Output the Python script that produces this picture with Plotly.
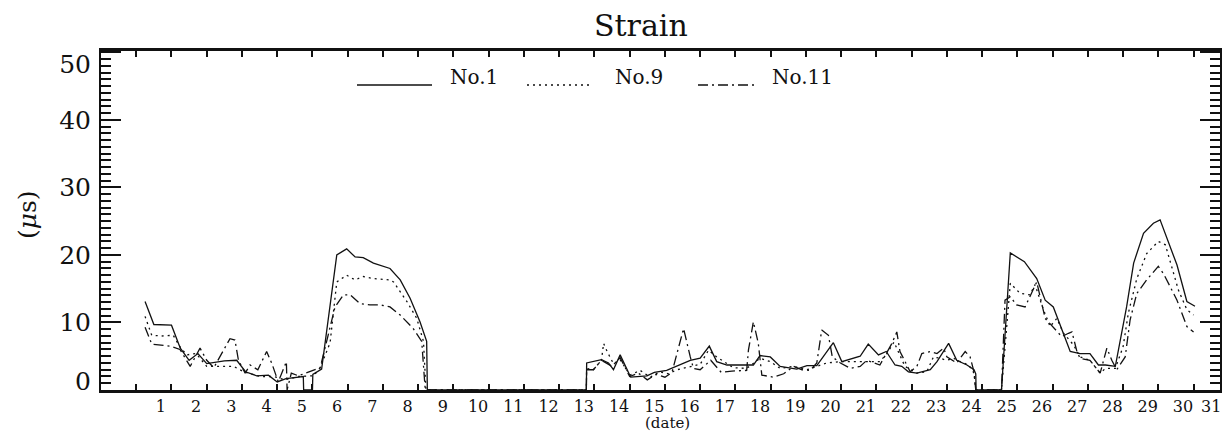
import plotly.graph_objects as go

# ---- data (x = days since first tick, values in micro-strain) ----
no1_t = [0.25, 0.5, 1.0, 1.25, 1.5, 1.75, 2.0, 2.25, 2.5, 2.85, 3.1, 3.42, 3.75, 4.0, 4.25, 4.74, 4.75, 5.0, 5.01, 5.26,
         5.69, 5.97, 6.21, 6.44, 6.73, 7.2, 7.49, 7.77, 8.05, 8.24, 8.26, 12.77,
         12.78, 13.2, 13.4, 13.54, 13.73, 14.03, 14.49, 14.7, 15.05, 15.72, 16.0, 16.26, 16.47, 16.76, 17.2, 17.51, 17.7,
         17.99, 18.27, 18.74, 19.03, 19.31, 19.78, 20.02, 20.54, 20.77, 21.06, 21.28, 21.53, 21.72, 21.91, 22.15, 22.53,
         22.72, 23.05, 23.28, 23.57, 23.77, 23.82, 23.83, 24.55,
         24.8, 25.2, 25.55, 25.79, 26.02, 26.5, 26.78, 27.06, 27.3, 27.5, 27.78, 28.1, 28.3, 28.58, 28.86, 29.05, 29.53,
         29.81, 30.04]
no1_v = [13.1, 9.7, 9.6, 6.2, 4.4, 5.4, 3.9, 4.1, 4.3, 4.4, 2.7, 2.1, 2.2, 1.2, 1.7, 2.0, 0.0, 0.0, 2.3, 3.1,
         20.0, 20.9, 19.7, 19.6, 18.8, 18.0, 16.3, 13.6, 10.1, 7.2, 0.0, 0.0,
         4.0, 4.5, 4.0, 3.0, 5.2, 1.9, 2.1, 2.6, 2.9, 4.4, 4.7, 6.5, 4.2, 3.7, 3.7, 3.7, 5.1,
         4.9, 3.5, 3.1, 3.6, 3.6, 7.0, 4.2, 5.0, 6.8, 5.2, 5.7, 3.7, 3.5, 2.7, 2.5, 3.0,
         4.2, 6.9, 4.4, 3.7, 3.0, 2.4, 0.0, 0.0,
         20.3, 19.0, 16.5, 13.3, 12.3, 5.7, 5.4, 5.4, 3.7, 3.7, 3.5, 12.3, 18.8, 23.2, 24.7, 25.2, 18.5,
         13.1, 12.4]

no9_t = [0.25, 0.44, 0.72, 1.05, 1.24, 1.43, 1.7, 2.0, 2.38, 2.76, 3.05, 3.51, 3.9, 4.22, 4.6, 5.03, 5.22, 5.5,
         5.69, 5.97, 6.21, 6.44, 6.73, 7.2, 7.3, 7.68, 7.96, 8.15, 8.22, 12.77,
         12.78, 12.97, 13.2, 13.26, 13.36, 13.54, 13.73, 14.01, 14.3, 14.58, 14.86, 15.1, 15.34, 15.72, 16.0, 16.24, 16.47,
         16.94, 17.32, 17.7, 17.99, 18.27, 18.65, 19.03, 19.31, 19.59, 19.98, 20.35, 20.73, 21.1, 21.3, 21.5, 21.81, 22.0,
         22.15, 22.43, 22.62, 22.8, 23.0, 23.19, 23.38, 23.62, 23.77, 23.82, 24.55,
         24.8, 25.08, 25.36, 25.5, 25.74, 25.93, 26.12, 26.31, 26.59, 26.78, 27.06, 27.26, 27.35, 27.5, 27.78, 28.0, 28.15,
         28.39, 28.67, 29.0, 29.2, 29.57, 29.81, 30.0]
no9_v = [10.9, 8.1, 8.0, 8.1, 6.4, 5.2, 5.4, 3.5, 3.5, 3.5, 2.7, 2.0, 2.0, 1.5, 2.0, 2.1, 3.3, 7.0,
         16.0, 17.0, 16.3, 16.8, 16.5, 16.3, 16.0, 13.1, 10.6, 7.2, 0.0, 0.0,
         3.2, 3.0, 4.4, 6.9, 5.7, 3.9, 4.5, 2.2, 2.9, 1.9, 2.7, 2.4, 3.0, 3.5, 3.8, 5.9, 4.9,
         3.3, 3.2, 4.7, 4.2, 3.2, 3.5, 3.0, 3.5, 4.0, 4.2, 4.2, 4.2, 4.2, 5.4, 7.1, 3.5, 3.0,
         2.5, 2.7, 4.9, 4.7, 4.4, 4.7, 4.2, 3.7, 2.5, 0.0, 0.0,
         15.8, 14.3, 14.1, 15.6, 11.9, 9.4, 10.6, 8.4, 6.7, 4.9, 4.4, 3.2, 2.5, 3.2, 3.2, 6.4, 11.4,
         16.5, 20.2, 22.0, 21.5, 14.8, 11.9, 11.1]

no11_t = [0.25, 0.44, 0.96, 1.24, 1.53, 1.81, 2.0, 2.2, 2.66, 2.8, 2.9, 3.09, 3.23, 3.45, 3.7, 3.85, 4.03, 4.26, 4.28,
          4.4, 4.6, 4.93, 5.22, 5.64, 5.88, 6.07, 6.35, 6.63, 6.92, 7.2, 7.49, 7.86, 8.1, 8.2, 12.77,
          12.78, 12.97, 13.2, 13.5, 13.73, 14.0, 14.25, 14.5, 14.75, 15.0, 15.2, 15.34, 15.53, 15.72, 15.81, 16.0, 16.3,
          16.6, 16.9, 17.32, 17.37, 17.51, 17.65, 17.75, 18.08, 18.37, 18.65, 18.89, 19.12, 19.31, 19.45, 19.64, 19.75,
          19.98, 20.26, 20.54, 20.73, 21.1, 21.25, 21.44, 21.58, 21.67, 21.96, 22.15, 22.29, 22.53, 22.72, 22.91, 23.0,
          23.28, 23.52, 23.66, 23.77, 23.82, 24.55,
          24.65, 24.8, 24.98, 25.22, 25.55, 25.79, 26.26, 26.45, 26.55, 26.69, 26.78, 27.06, 27.26, 27.35, 27.54, 27.68,
          27.82, 28.06, 28.2, 28.39, 28.67, 29.0, 29.15, 29.53, 29.81, 30.0]
no11_v = [9.3, 6.8, 6.5, 6.0, 3.5, 6.2, 4.4, 3.3, 7.6, 7.4, 4.4, 2.5, 3.7, 3.0, 5.7, 3.9, 1.2, 4.2, 0.0,
          2.5, 2.1, 2.7, 3.3, 12.3, 14.1, 14.1, 12.8, 12.6, 12.6, 12.3, 11.1, 9.1, 7.2, 0.0, 0.0,
          3.0, 3.0, 4.4, 3.5, 4.8, 2.0, 2.5, 1.5, 2.3, 1.9, 2.6, 5.4, 9.1, 4.9, 3.2, 3.0, 4.4,
          2.6, 2.8, 2.9, 5.9, 10.1, 6.9, 2.2, 1.9, 2.4, 3.5, 3.0, 2.9, 4.0, 8.9, 8.1, 4.9,
          4.0, 3.2, 3.5, 4.4, 3.7, 5.2, 6.9, 8.6, 5.7, 2.7, 3.5, 5.4, 5.7, 5.4, 6.2, 4.9,
          4.0, 5.7, 4.9, 2.7, 0.0, 0.0,
          13.3, 13.8, 12.6, 12.3, 16.0, 10.6, 7.9, 8.4, 8.6, 5.7, 4.7, 4.4, 3.2, 2.5, 6.2, 4.4,
          3.0, 4.9, 10.4, 14.3, 16.3, 18.3, 17.2, 13.3, 9.4, 8.6]

series_names = ["No.1", "No.9", "No.11"]
date_labels = [str(d) for d in range(1, 32)]
y_ticks = [0, 10, 20, 30, 40, 50]

# ---- styling ----
FONT = "DejaVu Serif"
INK = "#111111"
dashes = ["solid", "2px,4px", "10px,4px,2px,4px"]
X_RANGE = [-1, 30.75]
Y_RANGE = [0, 50.2]

fig = go.Figure()
for name, t, v, d in zip(series_names, [no1_t, no9_t, no11_t], [no1_v, no9_v, no11_v], dashes):
    fig.add_trace(go.Scatter(x=t, y=v, mode="lines", name=name,
                             line=dict(color=INK, width=1.3, dash=d), showlegend=False))

W, H = 1223, 439
ml, mr, mt, mb = 101, 3, 51, 49
pw, ph = W - ml - mr, H - mt - mb

def px2paper_x(px):
    return (px - ml) / pw

def py2paper_y(py):
    return (H - mb - py) / ph

fig.update_layout(
    template="none",
    width=W, height=H,
    margin=dict(l=ml, r=mr, t=mt, b=mb, autoexpand=False),
    paper_bgcolor="white", plot_bgcolor="white",
    font=dict(family=FONT, color=INK),
    xaxis=dict(range=X_RANGE, tickvals=list(range(0, 31)), ticks="inside", ticklen=6, tickwidth=2,
               tickcolor=INK, showticklabels=False, showline=True, linewidth=2.5, linecolor=INK,
               mirror="allticks", showgrid=False, zeroline=False, automargin=False),
    xaxis2=dict(range=X_RANGE, overlaying="x", anchor="y", side="bottom",
                tickvals=[min(int(s) - 0.3, 30.5) for s in date_labels], ticktext=date_labels,
                ticks="", showline=False, showgrid=False, zeroline=False, automargin=False,
                ticklabeloverflow="allow",
                tickfont=dict(family=FONT, size=16, color=INK), ticklabelstandoff=5),
    yaxis=dict(range=Y_RANGE, tickvals=y_ticks, ticks="inside", ticklen=20, tickwidth=2, tickcolor=INK,
               minor=dict(dtick=1, ticks="inside", ticklen=10, tickwidth=1.5, tickcolor=INK),
               showticklabels=False, showline=True, linewidth=2.2, linecolor=INK,
               mirror="allticks", showgrid=False, zeroline=False, automargin=False),
    yaxis2=dict(range=Y_RANGE, overlaying="y", anchor="x", side="left",
                tickvals=[1.26, 10, 20, 30, 40, 48.3], ticktext=[str(v) for v in y_ticks],
                ticks="", showline=False, showgrid=False, zeroline=False, automargin=False,
                tickfont=dict(family=FONT, size=25, color=INK), ticklabelstandoff=9),
)

# dummy invisible trace so the label axes exist
fig.add_trace(go.Scatter(x=[X_RANGE[0]], y=[Y_RANGE[0]], xaxis="x2", yaxis="y2", mode="markers",
                         marker=dict(opacity=0), showlegend=False, hoverinfo="skip"))

annotations = [
    dict(text="Strain", x=px2paper_x(641), y=py2paper_y(25), xref="paper", yref="paper",
         showarrow=False, font=dict(family=FONT, size=30, color=INK), xanchor="center", yanchor="middle"),
    dict(text="(date)", x=px2paper_x(667), y=py2paper_y(423), xref="paper", yref="paper",
         showarrow=False, font=dict(family=FONT, size=15, color=INK), xanchor="center", yanchor="middle"),
    dict(text="(<i>μ</i>s)", x=px2paper_x(27), y=py2paper_y(215), xref="paper", yref="paper", textangle=-90,
         showarrow=False, font=dict(family=FONT, size=25, color=INK), xanchor="center", yanchor="middle"),
]

# legend drawn as sample lines + labels
legend_lines = [(357, 432), (527, 593), (698, 757)]
legend_text_x = [448, 613, 770]
shapes = []
for (x0, x1), d, name, tx in zip(legend_lines, dashes, series_names, legend_text_x):
    shapes.append(dict(type="line", xref="paper", yref="paper", x0=px2paper_x(x0), x1=px2paper_x(x1),
                       y0=py2paper_y(85), y1=py2paper_y(85), line=dict(color=INK, width=1.3, dash=d)))
    annotations.append(dict(text=name, x=px2paper_x(tx), y=py2paper_y(77), xref="paper", yref="paper",
                            showarrow=False, font=dict(family=FONT, size=20, color=INK),
                            xanchor="left", yanchor="middle"))

fig.update_layout(annotations=annotations, shapes=shapes)
fig.write_html("out.html", config={"displayModeBar": False},
               post_script="document.body.style.margin='0px';document.body.style.overflow='hidden';")
